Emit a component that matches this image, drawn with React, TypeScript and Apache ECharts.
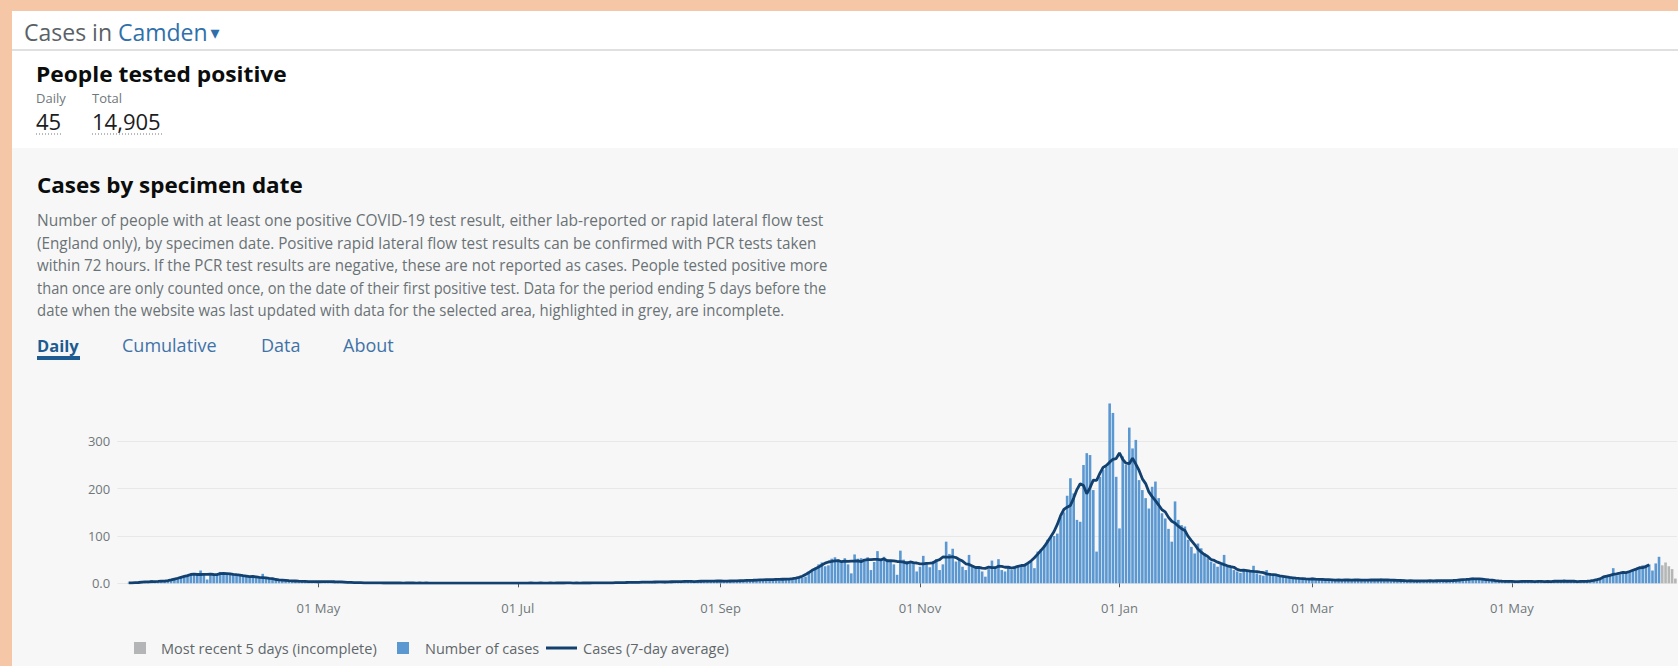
import React, { useEffect, useRef } from "react";
import * as echarts from "echarts";

// ---- Daily cases by specimen date ----
const mar2020 = [0,0,0,1,1,2,1,2,3,2, 7,3,4,3,4,4, 6,8,11,14,15,17, 18,20,19,27,21,8,17,19,20];
const apr2020 = [24,21,20,22,19,18,17,16,15,14, 13,12,11,20,10,9,9,8,7,7, 6,6,5,5,4,4,4,3,4,3];
const may2020 = [3,4,3,3,4,5,3,3,2,2, 2,1,2,1,1,1,1,0,1,1, 0,1,1,0,1,0,1,0,1,0,1];
const jun2020 = [1,0,0,1,0,1,0,0,0,1, 1,0,0,0,1,0,0,1,0,0, 0,1,0,0,1,0,1,0,0,1];
const jul2020 = [0,1,0,0,1,0,1,1,0,0, 1,0,0,2,0,1,0,1,1,0, 0,1,0,1,2,0,1,1,0,1,1];
const aug2020 = [2,1,3,2,1,2,3,2,1,3, 4,2,3,2,4,3,2,3,4,5, 3,4,3,5,4,3,4,6,5,4,5];
const sep2020 = [5,4,6,5,3,4,7,6,5,8, 7,5,6,8,9,7,8,10,6,7, 11,9,9,10,11,12,14,22,27,33];
const oct2020 = [40,44,36,38,52,55,50,48,53,40, 21,61,52,53,50,55,28,45,68,52, 56,50,49,40,18,69,50,47,46,44, 25];
const nov2020 = [35,58,45,34,47,51,28,40,88,62, 73,46,49,35,28,60,38,33,36,25, 14,30,48,35,51,28,25,35,28,35];
const dec2020 = [38,35,39,42,46,32,67,72,80,92, 99,100,105,140,150,185,222,190,134,130, 250,275,271,197,67,225,240,246,380,360, 225];
const jan2021 = [116,268,250,329,285,303,218,197,180,158, 204,215,180,148,137,115,88,173,134,123, 120,92,77,63,84,74,63,53,46,42, 35];
const feb2021 = [39,60,38,34,28,25,22,30,28,25, 37,21,18,16,28,20,18,18,15,13, 11,14,13,11,9,10,8,7];
const mar2021 = [12,9,8,10,7,6,5,9,8,7, 6,8,5,6,9,7,8,6,7,5, 6,10,8,7,6,7,5,4,8,6, 5];
const apr2021 = [5,4,6,3,5,7,6,5,6,4, 5,7,6,5,6,8,7,10,12,9, 8,11,9,7,5,6,4,5,4,3];
const may2021 = [4,3,5,4,3,4,5,3,4,4, 3,5,4,3,4,3,8,3,5,4, 3,4,3,4,4,5,7,9,11,14, 16];
const jun2021 = [32,17,19,22,20,24,27,29,33,38, 39,40,27,42,56];
// most recent 5 days (incomplete), 16-20 June 2021
const jun2021Incomplete = [38,44,36,30,10];

const monthBlocks: { year: number; month: number; values: number[] }[] = [
  { year: 2020, month: 2, values: mar2020 },
  { year: 2020, month: 3, values: apr2020 },
  { year: 2020, month: 4, values: may2020 },
  { year: 2020, month: 5, values: jun2020 },
  { year: 2020, month: 6, values: jul2020 },
  { year: 2020, month: 7, values: aug2020 },
  { year: 2020, month: 8, values: sep2020 },
  { year: 2020, month: 9, values: oct2020 },
  { year: 2020, month: 10, values: nov2020 },
  { year: 2020, month: 11, values: dec2020 },
  { year: 2021, month: 0, values: jan2021 },
  { year: 2021, month: 1, values: feb2021 },
  { year: 2021, month: 2, values: mar2021 },
  { year: 2021, month: 3, values: apr2021 },
  { year: 2021, month: 4, values: may2021 },
  { year: 2021, month: 5, values: jun2021 },
];

const xTickDates = [
  [2020, 4, 1], [2020, 6, 1], [2020, 8, 1], [2020, 10, 1],
  [2021, 0, 1], [2021, 2, 1], [2021, 4, 1],
];
const yTickValues = [0, 100, 200, 300];
const MONTHS = ["Jan","Feb","Mar","Apr","May","Jun","Jul","Aug","Sep","Oct","Nov","Dec"];

const paragraphLines = [
  "Number of people with at least one positive COVID-19 test result, either lab-reported or rapid lateral flow test",
  "(England only), by specimen date. Positive rapid lateral flow test results can be confirmed with PCR tests taken",
  "within 72 hours. If the PCR test results are negative, these are not reported as cases. People tested positive more",
  "than once are only counted once, on the date of their first positive test. Data for the period ending 5 days before the",
  "date when the website was last updated with data for the selected area, highlighted in grey, are incomplete.",
];
const tabs = ["Daily", "Cumulative", "Data", "About"];

const FONT = '"Open Sans", "Noto Sans", sans-serif';
const BLUE = "#5b97d0";
const GREY_BAR = "#b4b5b6";
const NAVY = "#12406f";

function buildData() {
  const complete: [number, number][] = [];
  monthBlocks.forEach((b) =>
    b.values.forEach((v, i) => complete.push([new Date(b.year, b.month, i + 1).getTime(), v]))
  );
  const incomplete: [number, number][] = jun2021Incomplete.map((v, i) => [
    new Date(2021, 5, 16 + i).getTime(),
    v,
  ]);
  const avg: [number, number][] = [];
  for (let i = 3; i < complete.length - 3; i++) {
    let s = 0;
    for (let k = -3; k <= 3; k++) s += complete[i + k][1];
    avg.push([complete[i][0], Math.round((s / 7) * 10) / 10]);
  }
  return { complete, incomplete, avg };
}

function txt(text: string, x: number, y: number, opts: any = {}) {
  const fs = opts.fontSize || 13;
  return {
    type: "text",
    x,
    y,
    z: 10,
    scaleX: opts.scaleX || 1,
    style: {
      text,
      fill: opts.fill || "#0b0c0c",
      fontSize: fs,
      lineHeight: Math.round(fs * 1.05),
      fontWeight: opts.fontWeight || "normal",
      fontFamily: opts.fontFamily || FONT,
      align: "left",
      verticalAlign: "middle",
      textAlign: "left",
      textVerticalAlign: "middle",
    },
  };
}

export default function App() {
  const ref = useRef<HTMLDivElement>(null);

  useEffect(() => {
    if (!ref.current) return;
    const chart = echarts.init(ref.current, undefined, { renderer: "svg" });
    const { complete, incomplete, avg } = buildData();
    const tickTs = xTickDates.map(([y, m, d]) => new Date(y, m, d).getTime());
    const xMin = new Date(2020, 1, 29, 12).getTime();
    const xMax = new Date(2021, 5, 20, 12).getTime();

    const tabX = [37, 122, 261, 343];
    const paraY = [220, 242.5, 265, 287.5, 310];
    const paraScale = [0.968, 0.955, 0.943, 0.914, 0.933];
    const LEG = "#5f676b";

    const graphics: any[] = [
      { type: "rect", z: -100, shape: { x: 0, y: 0, width: 1678, height: 666 }, style: { fill: "#f6c7a7" }, silent: true },
      { type: "rect", z: -99, shape: { x: 12, y: 11, width: 1666, height: 137 }, style: { fill: "#ffffff" }, silent: true },
      { type: "rect", z: -99, shape: { x: 12, y: 148, width: 1666, height: 518 }, style: { fill: "#f7f7f7" }, silent: true },
      { type: "line", z: -98, shape: { x1: 12, y1: 50, x2: 1678, y2: 50 }, style: { stroke: "#d6d6d6", lineWidth: 1.5 }, silent: true },
      {
        type: "text", x: 24, y: 32, z: 10,
        style: {
          text: "{g|Cases in }{b|Camden}{c|▾}",
          align: "left", verticalAlign: "middle", textAlign: "left", textVerticalAlign: "middle",
          fontFamily: FONT, fontSize: 23, lineHeight: 24,
          rich: {
            g: { fill: "#5a6166", color: "#5a6166", fontSize: 23, lineHeight: 24, fontFamily: FONT },
            b: { fill: "#2f70aa", color: "#2f70aa", fontSize: 23, lineHeight: 24, fontFamily: FONT },
            c: { fill: "#2f70aa", color: "#2f70aa", fontSize: 18, lineHeight: 24, fontFamily: '"DejaVu Sans", sans-serif', padding: [0, 0, 0, 3] },
          },
        },
      },
      txt("People tested positive", 36, 74, { fontSize: 22, fontWeight: "bold", scaleX: 1.035 }),
      txt("Daily", 36, 98, { fontSize: 13, fill: "#6f777b" }),
      txt("Total", 92, 98, { fontSize: 13, fill: "#6f777b" }),
      txt("45", 36, 121.5, { fontSize: 21, fill: "#1b1d1e", scaleX: 1.05 }),
      txt("14,905", 92, 121.5, { fontSize: 21, fill: "#1b1d1e", scaleX: 1.05 }),
      { type: "line", z: 5, shape: { x1: 36, y1: 134, x2: 62, y2: 134 }, style: { stroke: "#6f777b", lineWidth: 1, lineDash: [1, 2] } },
      { type: "line", z: 5, shape: { x1: 92, y1: 134, x2: 162, y2: 134 }, style: { stroke: "#6f777b", lineWidth: 1, lineDash: [1, 2] } },
      txt("Cases by specimen date", 37, 185, { fontSize: 22, fontWeight: "bold", scaleX: 1.02 }),
      ...paragraphLines.map((l, i) => txt(l, 37, paraY[i], { fontSize: 16, fill: "#6a7276", scaleX: paraScale[i] })),
      ...tabs.map((t, i) =>
        txt(t, tabX[i], 345, {
          fontSize: i === 0 ? 16.5 : 18,
          fontWeight: i === 0 ? "bold" : "normal",
          fill: i === 0 ? "#1d5b91" : "#3f73a8",
        })
      ),
      { type: "rect", z: 5, shape: { x: 37, y: 356, width: 43, height: 4 }, style: { fill: "#1d5b91" } },
      // legend
      { type: "rect", z: 5, shape: { x: 134, y: 642, width: 12, height: 12 }, style: { fill: GREY_BAR } },
      txt("Most recent 5 days (incomplete)", 161, 648, { fontSize: 14.5, fill: LEG }),
      { type: "rect", z: 5, shape: { x: 397, y: 642, width: 12, height: 12 }, style: { fill: BLUE } },
      txt("Number of cases", 425, 648, { fontSize: 14.5, fill: LEG }),
      { type: "line", z: 5, shape: { x1: 546, y1: 648, x2: 577, y2: 648 }, style: { stroke: NAVY, lineWidth: 3 } },
      txt("Cases (7-day average)", 583, 648, { fontSize: 14.5, fill: LEG }),
    ];

    chart.setOption({
      animation: false,
      backgroundColor: "transparent",
      textStyle: { fontFamily: FONT },
      grid: { left: 117.2, right: 1, top: 394, bottom: 82.7, containLabel: false },
      xAxis: {
        type: "value",
        min: xMin,
        max: xMax,
        offset: 9,
        scale: true,
        axisLine: { show: false },
        splitLine: { show: false },
        axisTick: { show: true, customValues: tickTs, length: 4, lineStyle: { color: "#505a5f", width: 1 } },
        axisLabel: {
          customValues: tickTs,
          color: "#6f777b",
          fontSize: 13,
          fontFamily: FONT,
          margin: 9,
          formatter: (v: number) => {
            const d = new Date(v);
            return String(d.getDate()).padStart(2, "0") + " " + MONTHS[d.getMonth()];
          },
        },
      },
      yAxis: {
        type: "value",
        min: 0,
        max: 400,
        interval: 100,
        axisLine: { show: false },
        axisTick: { show: false },
        axisLabel: {
          color: "#6f777b",
          fontSize: 13,
          fontFamily: FONT,
          margin: 7,
          showMaxLabel: false,
          formatter: (v: number) => (yTickValues.includes(v) ? (v === 0 ? "0.0" : String(v)) : ""),
        },
        splitLine: { show: true, showMaxLine: false, lineStyle: { color: "#e8e8e8", width: 1 } },
      },
      series: [
        {
          name: "Number of cases",
          type: "bar",
          data: complete,
          barWidth: 2.6,
          barGap: "-100%",
          itemStyle: { color: BLUE },
          z: 2,
        },
        {
          name: "Most recent 5 days (incomplete)",
          type: "bar",
          data: incomplete,
          barWidth: 2.6,
          barGap: "-100%",
          itemStyle: { color: GREY_BAR },
          z: 2,
        },
        {
          name: "Cases (7-day average)",
          type: "line",
          data: avg,
          showSymbol: false,
          symbol: "none",
          lineStyle: { color: NAVY, width: 2.8 },
          z: 5,
        },
      ],
      graphic: { elements: graphics },
    });

    return () => chart.dispose();
  }, []);

  return (
    <div
      ref={ref}
      style={{ position: "absolute", left: 0, top: 0, width: 1678, height: 666 }}
    />
  );
}
